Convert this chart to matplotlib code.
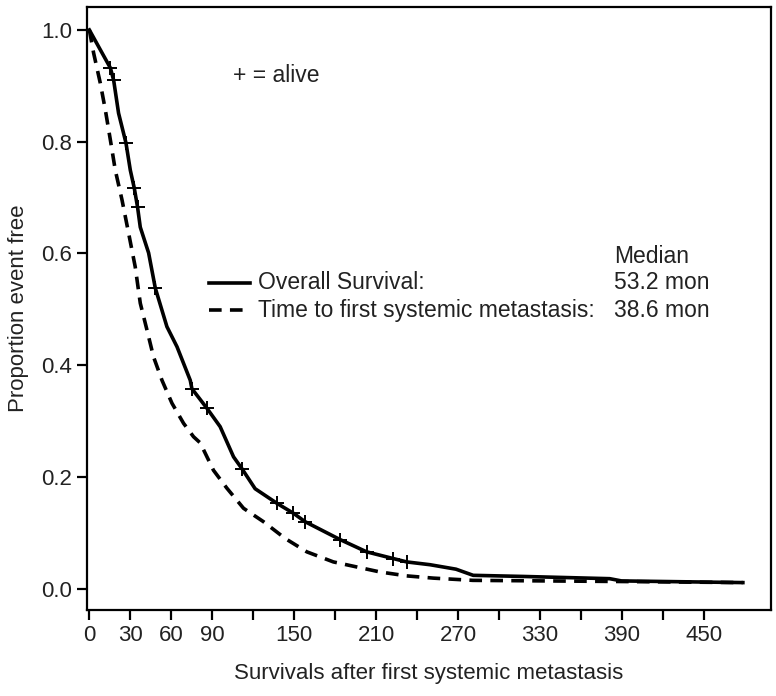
import matplotlib
matplotlib.use('Agg')
import matplotlib.pyplot as plt

plt.rcParams['font.family'] = ['Liberation Sans', 'DejaVu Sans']

# Overall survival
os_time = [0, 15.4, 17.8, 21.4, 26.8, 30.0, 32.9, 35.3, 37.3, 43.4, 48.3, 56.8,
           64.2, 73.9, 75.1, 86.1, 95.8, 105.6, 111.7, 121.4, 137.3, 149.5, 158.0,
           183.6, 203.1, 222.6, 232.4, 249.5, 268.5, 281.1, 317.7, 381.1, 389.7, 478.6]
os_surv = [1.000, 0.932, 0.910, 0.851, 0.798, 0.749, 0.717, 0.683, 0.647, 0.601, 0.538, 0.469,
           0.433, 0.373, 0.358, 0.323, 0.290, 0.236, 0.215, 0.179, 0.153, 0.135, 0.120,
           0.088, 0.066, 0.054, 0.048, 0.043, 0.035, 0.024, 0.022, 0.018, 0.014, 0.011]

# censored patients (alive) on the overall survival curve
censor_time = [15.4, 17.8, 26.8, 32.9, 35.3, 48.3, 75.1, 86.1, 111.7, 137.3,
               149.5, 158.0, 183.6, 203.1, 222.6, 232.4]

# Time to first systemic metastasis
met_time = [0, 3.1, 8.0, 11.7, 15.4, 19.0, 23.9, 28.7, 33.6, 37.3, 42.2, 47.0, 53.2,
            60.5, 69.0, 76.3, 81.2, 90.9, 100.7, 112.9, 127.5, 143.4, 159.3, 178.7,
            195.8, 212.9, 232.4, 251.9, 280.9, 386.2, 478.4]
met_surv = [1.0, 0.959, 0.905, 0.857, 0.803, 0.749, 0.696, 0.637, 0.576, 0.511, 0.463, 0.415, 0.373,
            0.332, 0.296, 0.272, 0.261, 0.212, 0.180, 0.144, 0.120, 0.090, 0.066, 0.048,
            0.039, 0.030, 0.023, 0.019, 0.015, 0.013, 0.011]

xticks = list(range(0, 451, 30))
xlabels = ['0', '30', '60', '90', '', '150', '', '210', '', '270', '', '330', '', '390', '', '450']
yticks = [0.0, 0.2, 0.4, 0.6, 0.8, 1.0]

medians = ['53.2 mon', '38.6 mon']

txt = '#222222'
fs = 16
lfs = 16.5

fig = plt.figure(figsize=(7.76, 6.96), dpi=100)
ax = fig.add_axes([0.1125, 0.1236, 0.8807, 0.8663])

ax.plot(os_time, os_surv, color='black', lw=2.6, solid_joinstyle='round')
ax.plot(met_time, met_surv, color='black', lw=2.6, dashes=(3.5, 2.3))

# censor marks
cens_y = [os_surv[os_time.index(t)] for t in censor_time]
ax.plot(censor_time, cens_y, ls='none', marker='+', color='black', ms=10, mew=1.4)

ax.set_xlim(-1.5, 499)
ax.set_ylim(-0.038, 1.041)
ax.set_xticks(xticks)
ax.set_xticklabels(xlabels)
ax.set_yticks(yticks)
ax.set_yticklabels(['%.1f' % v for v in yticks])

for s in ax.spines.values():
    s.set_linewidth(1.6)
ax.tick_params(direction='out', length=7, width=1.6, labelsize=fs, colors='black',
               labelcolor=txt, pad=4)

ax.set_xlabel('Survivals after first systemic metastasis', fontsize=fs, color=txt, labelpad=12)
ax.set_ylabel('Proportion event free', fontsize=fs, color=txt, labelpad=9)

# legend drawn by hand
ax.text(0.213, 0.887, '+ = alive', transform=ax.transAxes, fontsize=lfs, color=txt, va='center')
ax.plot([0.178, 0.238], [0.5423, 0.5423], transform=ax.transAxes, color='black', lw=2.6)
ax.plot([0.178, 0.238], [0.4975, 0.4975], transform=ax.transAxes, color='black', lw=2.6,
        dashes=(3.5, 2.3))
ax.text(0.25, 0.5423, 'Overall Survival:', transform=ax.transAxes, fontsize=lfs, color=txt, va='center')
ax.text(0.25, 0.4975, 'Time to first systemic metastasis:', transform=ax.transAxes, fontsize=lfs,
        color=txt, va='center')
ax.text(0.771, 0.587, 'Median', transform=ax.transAxes, fontsize=lfs, color=txt, va='center')
ax.text(0.771, 0.5423, medians[0], transform=ax.transAxes, fontsize=lfs, color=txt, va='center')
ax.text(0.771, 0.4975, medians[1], transform=ax.transAxes, fontsize=lfs, color=txt, va='center')

fig.savefig('out.png', dpi=100)
